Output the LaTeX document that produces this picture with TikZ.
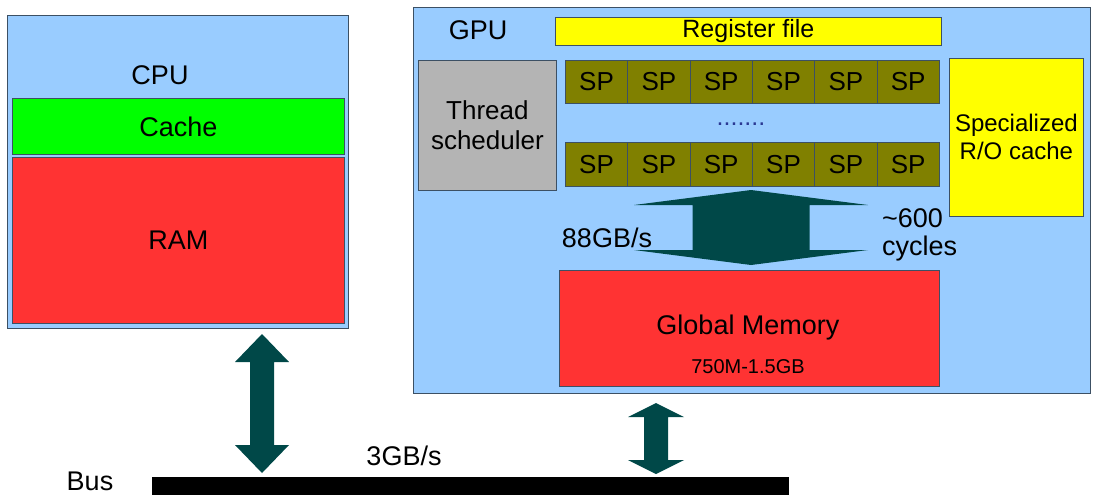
\documentclass[tikz,border=0pt]{standalone}
\usepackage{fontspec}
\setmainfont{Liberation Sans}
\usetikzlibrary{calc}
\definecolor{bgblue}{RGB}{153,204,255}
\definecolor{cachegreen}{RGB}{0,255,0}
\definecolor{memred}{RGB}{255,51,51}
\definecolor{regyellow}{RGB}{255,255,0}
\definecolor{schedgray}{RGB}{180,180,180}
\definecolor{spolive}{RGB}{128,128,0}
\definecolor{arrowteal}{RGB}{0,72,72}
\definecolor{edge}{RGB}{60,80,100}

% double-headed block arrow between two named points (top, bottom)
% #3 head half width, #4 shaft half width, #5 head length
\newcommand\dblarrow[5]{%
  \fill[arrowteal] (#1) -- ($(#1)+(#3,#5)$) -- ($(#1)+(#4,#5)$)
    -- ($(#2)+(#4,-#5)$) -- ($(#2)+(#3,-#5)$) -- (#2)
    -- ($(#2)+(-#3,-#5)$) -- ($(#2)+(-#4,-#5)$)
    -- ($(#1)+(-#4,#5)$) -- ($(#1)+(-#3,#5)$) -- cycle;}

\begin{document}
\begin{tikzpicture}[x=1pt,y=-1pt,
  box/.style={draw=edge, line width=0.8pt, inner sep=0pt, anchor=north west,
    font=\fontsize{27}{30}\selectfont},
  lbl/.style={inner sep=0pt, font=\fontsize{27}{30}\selectfont},
  spcell/.style={box, fill=spolive, minimum width=62.33pt,
    font=\fontsize{26}{28}\selectfont}]
\useasboundingbox (0,0) rectangle (1093,499);

% CPU side
\node[box, fill=bgblue, minimum width=341pt, minimum height=313pt] (cpu) at (7,15) {};
\node[lbl] (cpulbl) at (160,75) {CPU};
\node[box, fill=cachegreen, minimum width=332pt, minimum height=56pt] (cache) at (12,98) {Cache};
\node[box, fill=memred, minimum width=332pt, minimum height=166pt] (ram) at (12,157) {RAM};

% GPU side
\node[box, fill=bgblue, minimum width=677pt, minimum height=386pt] (gpu) at (413,7) {};
\node[lbl] (gpulbl) at (478,30) {GPU};
\node[box, fill=regyellow, minimum width=386pt, minimum height=28pt,
  font=\fontsize{25}{28}\selectfont] (reg) at (555,17) {Register file};
\node[box, fill=schedgray, minimum width=138pt, minimum height=130pt, align=center,
  font=\fontsize{26}{30}\selectfont] (sched) at (418,60) {Thread\\scheduler};
\foreach \i in {0,...,5} {
  \node[spcell, minimum height=43pt] (spa\i) at ({565+62.33*\i},60) {SP};
  \node[spcell, minimum height=44pt] (spb\i) at ({565+62.33*\i},142) {SP};
}
\node[inner sep=0pt, text=edge!70!blue, font=\fontsize{25}{26}\selectfont] (dots) at (741,124) {.......};
\node[box, fill=regyellow, minimum width=134pt, minimum height=158pt, align=center,
  font=\fontsize{24}{28}\selectfont] (roc) at (949,58) {Specialized\\R/O cache};
\node[box, fill=memred, minimum width=380pt, minimum height=116pt] (gmem) at (559,270) {};
\node[lbl] (gmemlbl) at (748,328) {Global Memory};
\node[inner sep=0pt, font=\fontsize{20}{22}\selectfont] (gmemsize) at (748,367) {750M-1.5GB};

% SP array <-> global memory
\coordinate (spport) at (751,190);
\coordinate (memport) at (751,265);
\dblarrow{spport}{memport}{117}{58.5}{15}
\node[lbl] (bw) at (607,238) {88GB/s};
\node[lbl, anchor=west, align=left, font=\fontsize{27}{28}\selectfont] (lat) at (882,235)
  {\textasciitilde600\\cycles};

% bus
\node[box, fill=black, draw=black, minimum width=636pt, minimum height=17pt] (bus) at (152,477) {};
\node[lbl] (buslbl) at (90,481) {Bus};
\node[lbl] (busbw) at (404,456) {3GB/s};

\coordinate (cpuport) at (262,334);
\coordinate (buscpu) at (262,473);
\dblarrow{cpuport}{buscpu}{27}{12}{28}
\coordinate (gpuport) at (656,403);
\coordinate (busgpu) at (656,474);
\dblarrow{gpuport}{busgpu}{28}{12}{14}
\end{tikzpicture}
\end{document}
